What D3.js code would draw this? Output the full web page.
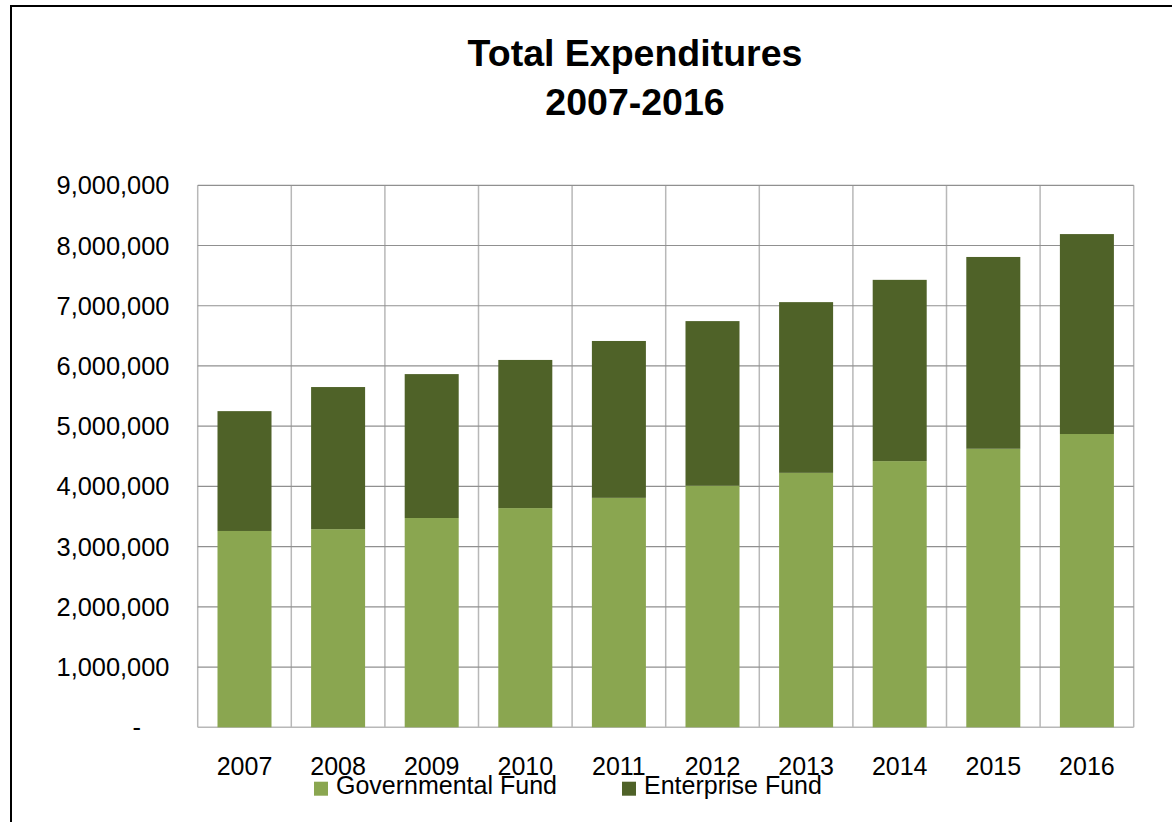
<!DOCTYPE html>
<html>
<head>
<meta charset="utf-8">
<script src="https://cdn.jsdelivr.net/npm/d3@7"></script>
<style>
  html, body { margin: 0; padding: 0; background: #fff; }
  svg { display: block; }
  text { font-family: "Liberation Sans", Arial, sans-serif; fill: #000; }
</style>
</head>
<body>
<svg id="chart" width="1172" height="822"></svg>
<script>
// ---- Data ----
const years = ["2007","2008","2009","2010","2011","2012","2013","2014","2015","2016"];
const governmentalFund = [3260000, 3290000, 3475000, 3640000, 3810000, 4010000, 4225000, 4420000, 4625000, 4870000];
const enterpriseFund   = [1990000, 2360000, 2390000, 2460000, 2605000, 2735000, 2835000, 3010000, 3185000, 3320000];
const seriesNames = ["Governmental Fund", "Enterprise Fund"];
const yTicks = [0, 1000000, 2000000, 3000000, 4000000, 5000000, 6000000, 7000000, 8000000, 9000000];
const titleLines = ["Total Expenditures", "2007-2016"];

// ---- Layout ----
const svg = d3.select("#chart");
const colors = ["#8AA650", "#4F6228"];
const plot = { left: 197.7, right: 1133.7, top: 185.3, bottom: 727.3 };

// outer frame
svg.append("rect")
  .attr("x", 11).attr("y", 6)
  .attr("width", 1180).attr("height", 840)
  .attr("fill", "none").attr("stroke", "#000").attr("stroke-width", 2);

const x = d3.scaleBand().domain(years)
  .range([plot.left, plot.right])
  .paddingInner(0.423).paddingOuter(0.2115);
const y = d3.scaleLinear().domain([0, 9000000]).range([plot.bottom, plot.top]);

// vertical category gridlines
const step = x.step();
const vx = d3.range(years.length + 1).map(i => plot.left + i * step);
svg.append("g").selectAll("line").data(vx).join("line")
  .attr("x1", d => d).attr("x2", d => d)
  .attr("y1", plot.top).attr("y2", plot.bottom)
  .attr("stroke", "#b8b8b8").attr("stroke-width", 1.5);

// horizontal gridlines
svg.append("g").selectAll("line").data(yTicks.filter(d => d > 0)).join("line")
  .attr("x1", plot.left).attr("x2", plot.right)
  .attr("y1", d => y(d)).attr("y2", d => y(d))
  .attr("stroke", "#909090").attr("stroke-width", 1.2);

// axis baseline
svg.append("line")
  .attr("x1", plot.left).attr("x2", plot.right)
  .attr("y1", plot.bottom).attr("y2", plot.bottom)
  .attr("stroke", "#b8b8b8").attr("stroke-width", 1.5);

// stacked bars
const rows = years.map((yr, i) => ({ year: yr, gov: governmentalFund[i], ent: enterpriseFund[i] }));
const stack = d3.stack().keys(["gov", "ent"])(rows);
svg.append("g").selectAll("g").data(stack).join("g")
  .attr("fill", (d, i) => colors[i])
  .selectAll("rect").data(d => d).join("rect")
  .attr("x", d => x(d.data.year))
  .attr("width", x.bandwidth())
  .attr("y", d => y(d[1]))
  .attr("height", d => y(d[0]) - y(d[1]));

// y axis labels
const fmt = d3.format(",");
svg.append("g").selectAll("text").data(yTicks).join("text")
  .attr("x", d => d === 0 ? 141 : 169.5)
  .attr("y", d => y(d) + 9)
  .attr("text-anchor", "end")
  .attr("font-size", 25.4)
  .text(d => d === 0 ? "-" : fmt(d));

// x axis labels
svg.append("g").selectAll("text").data(years).join("text")
  .attr("x", d => x(d) + x.bandwidth() / 2)
  .attr("y", 775)
  .attr("text-anchor", "middle")
  .attr("font-size", 25)
  .text(d => d);

// title
svg.append("g").selectAll("text").data(titleLines).join("text")
  .attr("x", 635)
  .attr("y", (d, i) => 66 + i * 49)
  .attr("text-anchor", "middle")
  .attr("font-size", 37.5)
  .attr("font-weight", "bold")
  .text(d => d);

// legend
const legendX = [314, 622];
const lg = svg.append("g").selectAll("g").data(seriesNames).join("g")
  .attr("transform", (d, i) => `translate(${legendX[i]},0)`);
lg.append("rect")
  .attr("x", 0).attr("y", 781.7).attr("width", 14).attr("height", 14)
  .attr("fill", (d, i) => colors[i]);
lg.append("text")
  .attr("x", 22).attr("y", 794)
  .attr("font-size", 25)
  .text(d => d);
</script>
</body>
</html>
